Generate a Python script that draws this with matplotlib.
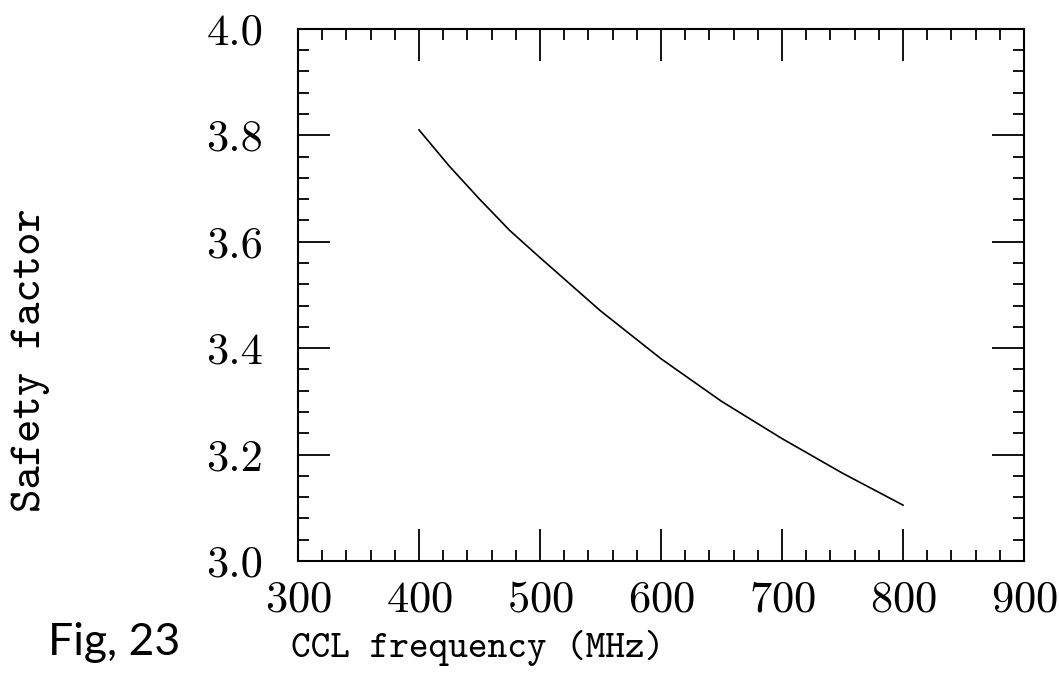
import matplotlib
matplotlib.use("Agg")
import matplotlib.pyplot as plt
from matplotlib.ticker import MultipleLocator, FormatStrFormatter

# Data
freq_mhz = [400, 425, 450, 475, 500, 550, 600, 650, 700, 750, 800]
safety_factor = [3.81, 3.742, 3.68, 3.621, 3.57, 3.47, 3.38, 3.30, 3.23, 3.165, 3.105]

x_ticks = [300, 400, 500, 600, 700, 800, 900]
y_ticks = [3.0, 3.2, 3.4, 3.6, 3.8, 4.0]

plt.rcParams['axes.formatter.use_mathtext'] = True

fig = plt.figure(figsize=(10.59, 6.85), dpi=100)
ax = fig.add_axes([0.2814, 0.181, 0.6856, 0.777])

ax.plot(freq_mhz, safety_factor, color='black', lw=1.2)

ax.set_xlim(300, 900)
ax.set_ylim(3.0, 4.0)
ax.set_xticks(x_ticks)
ax.set_yticks(y_ticks)
ax.xaxis.set_minor_locator(MultipleLocator(20))
ax.yaxis.set_minor_locator(MultipleLocator(0.04))
ax.yaxis.set_major_formatter(FormatStrFormatter('%.1f'))

ax.tick_params(which='both', direction='in', top=True, right=True, width=1.3, color='black')
ax.tick_params(which='major', length=23)
ax.tick_params(which='minor', length=8)
ax.tick_params(axis='x', which='major', pad=14)
ax.tick_params(axis='y', which='major', pad=25)

for lab in ax.get_xticklabels() + ax.get_yticklabels():
    lab.set_fontfamily('cmr10')
    lab.set_fontsize(32)

for sp in ax.spines.values():
    sp.set_linewidth(1.5)

ax.set_xlabel('CCL frequency (MHz)', fontfamily='cmtt10', fontsize=27)
ax.xaxis.set_label_coords(0.247, -0.13)
ax.set_ylabel('Safety factor', fontfamily='cmtt10', fontsize=32)
ax.yaxis.set_label_coords(-0.342, 0.378)

fig.text(0.108, 0.044, 'Fig, 23', fontsize=32, fontfamily='Lato', fontweight='normal',
         color='black', ha='center')

fig.savefig('out.png', dpi=100, facecolor='white')
